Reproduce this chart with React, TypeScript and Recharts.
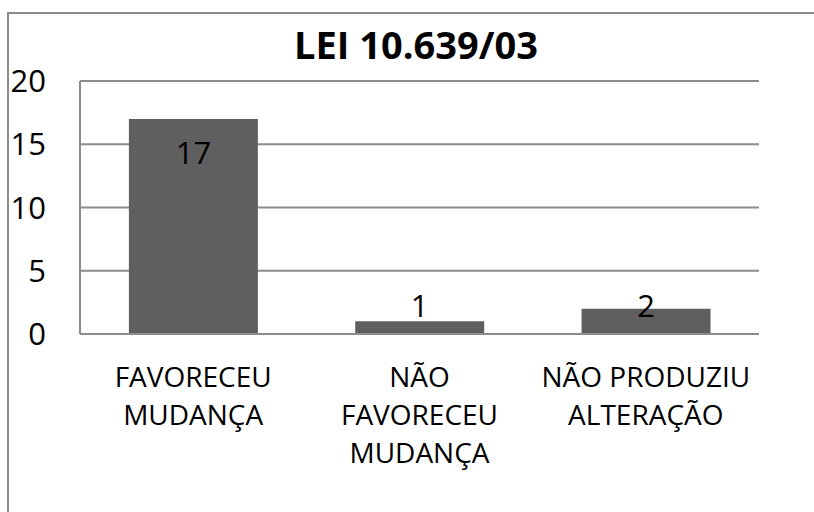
import { Bar, BarChart, CartesianGrid, LabelList, XAxis, YAxis } from 'recharts'

const categories = [
  'FAVORECEU\nMUDANÇA',
  'NÃO\nFAVORECEU\nMUDANÇA',
  'NÃO PRODUZIU\nALTERAÇÃO',
]
const counts = [17, 1, 2]
const yTicks = [0, 5, 10, 15, 20]
const title = 'LEI 10.639/03'

const data = categories.map((name, i) => ({ name, value: counts[i] }))

const FONT = '"Open Sans", sans-serif'
const GRID = '#8c8c8c'

function CategoryTick({ x, y, payload }: any) {
  const lines = String(payload.value).split('\n')
  return (
    <text x={x} y={y} textAnchor="middle" fill="#000" fontSize={28} fontFamily={FONT}>
      {lines.map((line, i) => (
        <tspan key={i} x={x} dy={i === 0 ? 53 : 38}>
          {line}
        </tspan>
      ))}
    </text>
  )
}

function ValueLabel({ x, y, width, height, value }: any) {
  // tall bars: label inside the top; short bars: label just above the base
  const baseline = height > 80 ? y + 45 : y + height - 17
  return (
    <text
      x={x + width / 2}
      y={baseline}
      textAnchor="middle"
      fill="#000"
      fontSize={31}
      fontFamily={FONT}
    >
      {value}
    </text>
  )
}

export default function App() {
  return (
    <div
      style={{
        position: 'fixed',
        left: 0,
        top: 0,
        width: 814,
        height: 512,
        overflow: 'hidden',
        background: '#fff',
      }}
    >
      <div
        style={{
          position: 'absolute',
          left: 7,
          top: 12,
          width: 1000,
          height: 1000,
          border: `2px solid ${GRID}`,
        }}
      />
      <svg
        width={814}
        height={80}
        style={{ position: 'absolute', left: 0, top: 0 }}
      >
        <text
          x={416}
          y={59}
          textAnchor="middle"
          fontSize={38}
          fontWeight="bold"
          fontFamily={FONT}
          fill="#000"
        >
          {title}
        </text>
      </svg>
      <div style={{ position: 'absolute', left: 0, top: 0 }}>
        <BarChart
          width={814}
          height={512}
          data={data}
          margin={{ top: 81, right: 55, bottom: 0, left: 0 }}
          barCategoryGap="21.6%"
        >
          <CartesianGrid vertical={false} stroke={GRID} strokeWidth={2} />
          <XAxis
            dataKey="name"
            height={178}
            tickLine={false}
            tickSize={0}
            tickMargin={0}
            axisLine={{ stroke: GRID, strokeWidth: 2 }}
            tick={<CategoryTick />}
            interval={0}
          />
          <YAxis
            width={80}
            domain={[0, 20]}
            ticks={yTicks}
            tickLine={false}
            tickSize={0}
            tickMargin={34}
            axisLine={{ stroke: GRID, strokeWidth: 2 }}
            tick={{ fill: '#000', fontSize: 31, fontFamily: FONT }}
          />
          <Bar dataKey="value" fill="#5f5f5f" isAnimationActive={false}>
            <LabelList dataKey="value" content={<ValueLabel />} />
          </Bar>
        </BarChart>
      </div>
    </div>
  )
}
